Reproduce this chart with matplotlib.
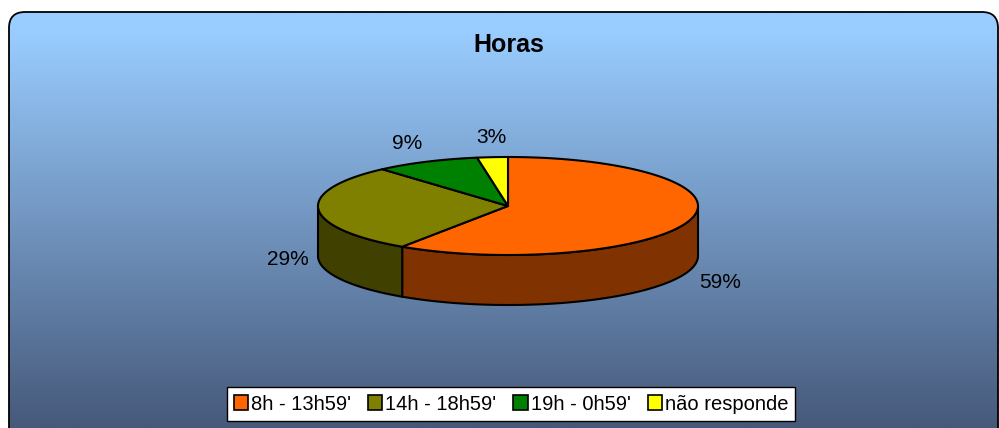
import numpy as np
import matplotlib
matplotlib.use("Agg")
import matplotlib.pyplot as plt
from matplotlib.patches import Polygon, FancyBboxPatch, Patch
from matplotlib.colors import to_rgb

# data (slice sizes, labels show them rounded)
labels = ["8h - 13h59'", "14h - 18h59'", "19h - 0h59'", "não responde"]
values = [59.4, 29.1, 8.9, 2.6]
colors = ["#FF6600", "#808000", "#008000", "#FFFF00"]
title = "Horas"

plt.rcParams["font.family"] = ["Liberation Sans", "DejaVu Sans"]

W, H = 999, 428
fig = plt.figure(figsize=(W / 100, H / 100), dpi=100)
ax = fig.add_axes([0, 0, 1, 1])
ax.set_xlim(0, W)
ax.set_ylim(H, 0)
ax.axis("off")

# rounded frame with vertical gradient (bottom edge runs off the picture)
frame = FancyBboxPatch((9, 12), 989, 440, boxstyle="round,pad=0,rounding_size=16",
                       facecolor="none", edgecolor="black", lw=1.3, zorder=2)
ax.add_patch(frame)
top_c = np.array(to_rgb("#99CCFF"))
bot_c = np.array(to_rgb("#46597A"))
t = np.linspace(0, 1, 256)[:, None]
t = np.clip((t - 0.05) / 0.95, 0, 1)
grad = top_c[None, :] * (1 - t) + bot_c[None, :] * t
img = ax.imshow(grad[:, None, :].repeat(2, axis=1), extent=(9, 998, 428, 12),
                aspect="auto", zorder=1)
img.set_clip_path(frame)

fig.text(509 / W, 1 - 45 / H, title, ha="center", va="center",
         fontsize=18, fontweight="bold")

# 3D pie geometry (pixel coords, y down)
cx, cy, rx, ry, depth = 508, 206, 190, 49, 50


def pt(a, dy=0.0):
    r = np.radians(a)
    return cx + rx * np.cos(r), cy - ry * np.sin(r) + dy


def darker(c, f=0.5):
    return tuple(np.array(to_rgb(c)) * f)


fracs = np.array(values) / sum(values)
starts = 90 - 360 * np.concatenate([[0], np.cumsum(fracs)[:-1]])
ends = starts - 360 * fracs

# side walls (front half: angles between -180 and 0)
for s, e, c in zip(starts, ends, colors):
    lo, hi = max(e, -180), min(s, 0)
    if hi <= lo:
        continue
    arc = np.linspace(hi, lo, 60)
    top = [pt(a) for a in arc]
    bot = [pt(a, depth) for a in arc[::-1]]
    ax.add_patch(Polygon(top + bot, closed=True, facecolor=darker(c),
                         edgecolor="black", lw=1.5, zorder=3))

# top faces
for s, e, c in zip(starts, ends, colors):
    arc = np.linspace(s, e, 120)
    poly = [(cx, cy)] + [pt(a) for a in arc]
    ax.add_patch(Polygon(poly, closed=True, facecolor=c, edgecolor="black",
                         lw=1.5, zorder=4, joinstyle="round"))

# percentage labels, placed just outside the pie edge
gap = 10
for s, e, v in zip(starts, ends, values):
    mid = (s + e) / 2
    m = np.radians(mid)
    cs, sn = np.cos(m), np.sin(m)
    ex, ey = pt(mid, depth if sn < 0 else 0)
    x, y = ex + gap * cs, ey - gap * sn
    ha = "left" if cs > 0.3 else ("right" if cs < -0.3 else "center")
    va = "top" if sn < -0.2 else ("bottom" if sn > 0.2 else "center")
    ax.text(x, y, f"{v:.0f}%", ha=ha, va=va, fontsize=15, zorder=5)

handles = [Patch(facecolor=c, edgecolor="black", lw=1.2) for c in colors]
leg = fig.legend(handles, labels, loc="center", bbox_to_anchor=(511 / W, 1 - 404 / H),
                 ncol=4, fontsize=14.5, frameon=True, fancybox=False,
                 handlelength=0.7, handleheight=0.7, handletextpad=0.15,
                 columnspacing=0.85, borderpad=0.35, borderaxespad=0)
leg.get_frame().set_edgecolor("black")
leg.get_frame().set_linewidth(1.0)
leg.get_frame().set_alpha(1)

fig.savefig("out.png", dpi=100)
